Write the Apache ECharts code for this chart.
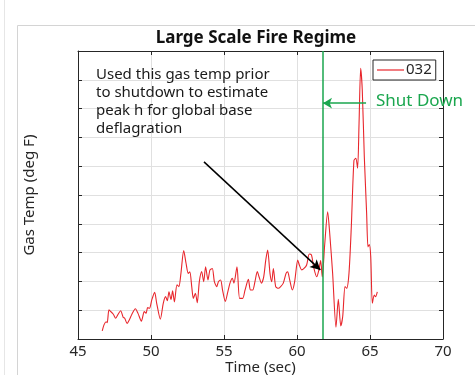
<!DOCTYPE html>
<html>
<head>
<meta charset="utf-8">
<script src="https://cdn.jsdelivr.net/npm/echarts@6/dist/echarts.min.js"></script>
<style>
  html, body { margin: 0; padding: 0; background: #ffffff; }
  #chart { width: 475px; height: 375px; }
</style>
</head>
<body>
<div id="chart"></div>
<script>
// Gas temperature trace for run 032 (arbitrary vertical units, 10 grid steps)
const times = [
  46.66, 46.78, 46.92, 47.00, 47.12, 47.25, 47.42, 47.58, 47.76, 47.92,
  48.10, 48.20, 48.36, 48.52, 48.70, 48.93, 49.11, 49.34, 49.54, 49.66,
  49.77, 49.90, 50.05, 50.25, 50.39, 50.64, 50.84, 51.00, 51.12, 51.23,
  51.37, 51.48, 51.60, 51.78, 51.91, 52.05, 52.24, 52.40, 52.55, 52.66,
  52.79, 52.90, 53.04, 53.17, 53.31, 53.47, 53.61, 53.74, 53.90, 54.04,
  54.20, 54.34, 54.50, 54.62, 54.77, 54.90, 55.09, 55.24, 55.41, 55.57,
  55.68, 55.89, 56.07, 56.28, 56.44, 56.67, 56.81, 56.97, 57.12, 57.28,
  57.40, 57.56, 57.72, 57.86, 57.99, 58.15, 58.27, 58.38, 58.54, 58.72,
  58.88, 59.06, 59.25, 59.36, 59.50, 59.68, 59.84, 60.05, 60.16, 60.32,
  60.48, 60.66, 60.84, 60.99, 61.16, 61.35, 61.50, 61.62, 61.73, 61.90,
  62.10, 62.24, 62.44, 62.67, 62.83, 63.00, 63.13, 63.29, 63.40, 63.56,
  63.72, 63.90, 64.03, 64.15, 64.25, 64.36, 64.47, 64.61, 64.77, 64.86,
  64.95, 65.05, 65.16, 65.29, 65.38, 65.50
];
const gasTemp = [
  0.28, 0.49, 0.60, 0.57, 1.01, 0.95, 0.86, 0.72, 0.87, 0.98,
  0.75, 0.72, 0.54, 0.67, 0.87, 1.05, 0.89, 0.62, 0.95, 0.89,
  1.09, 1.07, 1.35, 1.62, 1.24, 0.69, 1.24, 1.47, 1.33, 1.64,
  1.37, 1.67, 1.29, 1.88, 1.82, 2.28, 3.07, 2.63, 2.28, 2.33,
  1.82, 1.41, 1.59, 1.26, 1.99, 2.34, 1.99, 2.51, 2.05, 2.40,
  2.45, 1.99, 1.82, 1.99, 2.05, 1.70, 1.30, 1.59, 1.94, 2.11,
  1.94, 2.51, 1.41, 1.41, 1.70, 2.07, 1.70, 1.70, 1.99, 2.34,
  2.16, 1.94, 2.16, 2.74, 3.09, 2.28, 1.99, 2.45, 1.82, 1.76,
  1.82, 1.94, 2.28, 2.33, 2.05, 1.70, 1.99, 2.74, 2.57, 2.40,
  2.45, 2.57, 2.95, 2.92, 2.45, 2.16, 2.40, 2.72, 2.16, 3.30,
  4.42, 3.67, 2.28, 0.41, 1.38, 0.45, 0.78, 1.82, 1.76, 2.28,
  3.90, 6.20, 6.27, 5.93, 7.49, 9.40, 8.65, 6.33, 4.36, 3.20,
  3.28, 2.86, 1.24, 1.53, 1.47, 1.64
];
const xTicks = [45, 50, 55, 60, 65, 70];
const seriesName = '032';
const shutdownTime = 61.73;
// annotation arrow from the note to the last reading before shutdown
const noteArrowFrom = [53.63, 6.15];
const noteArrowTo = [61.60, 2.40];
// "Shut Down" arrow pointing back to the shutdown line
const shutArrowFrom = [64.73, 8.19];
const shutArrowTo = [61.78, 8.19];

const FONT = '"Noto Sans", "Open Sans", sans-serif';
const AXIS = '#262626';
const GREEN = '#1aa64e';
const RED = '#e8262c';

const chart = echarts.init(document.getElementById('chart'), null, { renderer: 'canvas' });

const points = times.map((t, i) => [t, gasTemp[i]]);

function boxAxis(extra) {
  return Object.assign({
    type: 'value',
    axisLine: { show: true, onZero: false, lineStyle: { color: AXIS, width: 1 } },
    axisTick: { show: true, inside: true, length: 4, lineStyle: { color: AXIS } },
    axisLabel: { show: false },
    splitLine: { show: false }
  }, extra);
}

chart.setOption({
  animation: false,
  backgroundColor: '#ffffff',
  textStyle: { fontFamily: FONT },
  title: {
    text: 'Large Scale Fire Regime',
    left: 251,
    top: 25,
    textAlign: 'center',
    textStyle: { fontFamily: FONT, fontSize: 17, fontWeight: 'bold', color: '#111111' }
  },
  legend: {
    left: 373,
    top: 60,
    padding: [1, 4, 1, 4],
    itemWidth: 27,
    itemHeight: 1.2,
    itemGap: 4,
    icon: 'rect',
    backgroundColor: '#ffffff',
    borderColor: AXIS,
    borderWidth: 1,
    borderRadius: 0,
    textStyle: { fontFamily: FONT, fontSize: 15, lineHeight: 18, color: AXIS, padding: [0, 0, 0, -3] },
    data: [seriesName]
  },
  grid: { left: 78, top: 51, right: 32, bottom: 36, containLabel: false, outerBoundsMode: 'none' },
  xAxis: [
    {
      type: 'value',
      min: xTicks[0],
      max: xTicks[xTicks.length - 1],
      interval: xTicks[1] - xTicks[0],
      name: 'Time (sec)',
      nameLocation: 'middle',
      nameGap: 21,
      nameMoveOverlap: false,
      nameTextStyle: { fontFamily: FONT, fontSize: 15, color: AXIS },
      axisLine: { show: true, onZero: false, lineStyle: { color: AXIS, width: 1 } },
      axisTick: { show: true, inside: true, length: 4, lineStyle: { color: AXIS } },
      axisLabel: { show: true, margin: 5, fontFamily: FONT, fontSize: 15, color: AXIS },
      splitLine: { show: true, lineStyle: { color: '#e0e0e0', width: 1 } }
    },
    boxAxis({ position: 'top', min: 45, max: 70, interval: 5 })
  ],
  yAxis: [
    {
      type: 'value',
      min: 0,
      max: 10,
      interval: 1,
      name: 'Gas Temp (deg F)',
      nameLocation: 'middle',
      nameGap: 41,
      nameMoveOverlap: false,
      nameTextStyle: { fontFamily: FONT, fontSize: 15, color: AXIS },
      axisLine: { show: true, onZero: false, lineStyle: { color: AXIS, width: 1 } },
      axisTick: { show: true, inside: true, length: 4, lineStyle: { color: AXIS } },
      axisLabel: { show: false },
      splitLine: { show: true, lineStyle: { color: '#e0e0e0', width: 1 } }
    },
    boxAxis({ position: 'right', min: 0, max: 10, interval: 1 })
  ],
  series: [
    {
      name: seriesName,
      type: 'line',
      data: points,
      symbol: 'none',
      smooth: 0.25,
      lineStyle: { color: RED, width: 1.1 },
      itemStyle: { color: RED },
      z: 3,
      markLine: {
        silent: true,
        animation: false,
        label: { show: false },
        emphasis: { disabled: true },
        data: [
          [
            { coord: [shutdownTime, 0], symbol: 'none', lineStyle: { color: GREEN, width: 1.5, type: 'solid' } },
            { coord: [shutdownTime, 10], symbol: 'none' }
          ],
          [
            { coord: shutArrowFrom, symbol: 'none', lineStyle: { color: GREEN, width: 1.5, type: 'solid' } },
            { coord: shutArrowTo, symbol: 'arrow', symbolSize: [8, 9] }
          ],
          [
            { coord: noteArrowFrom, symbol: 'none', lineStyle: { color: '#000000', width: 1.5, type: 'solid' } },
            { coord: noteArrowTo, symbol: 'arrow', symbolSize: [8, 10] }
          ]
        ]
      }
    }
  ],
  graphic: [
    // figure frame
    { type: 'rect', shape: { x: 17.5, y: 25.5, width: 500, height: 400 }, style: { fill: 'none', stroke: '#d4d4d4', lineWidth: 1 }, z: -10 },
    { type: 'line', shape: { x1: 4.5, y1: 0, x2: 4.5, y2: 375 }, style: { stroke: '#e6e6e6', lineWidth: 1 }, z: -10 },
    {
      type: 'text',
      left: 186 - 90,
      top: 66,
      z: 20,
      style: {
        text: 'Used this gas temp prior\nto shutdown to estimate\npeak h for global base\ndeflagration',
        x: 90,
        align: 'center',
        fontFamily: FONT,
        fontSize: 15,
        lineHeight: 18,
        fill: '#1a1a1a'
      }
    },
    {
      type: 'text',
      left: 376,
      top: 93,
      z: 20,
      style: { text: 'Shut Down', fontFamily: FONT, fontSize: 17, fill: GREEN }
    }
  ]
});
</script>
</body>
</html>
